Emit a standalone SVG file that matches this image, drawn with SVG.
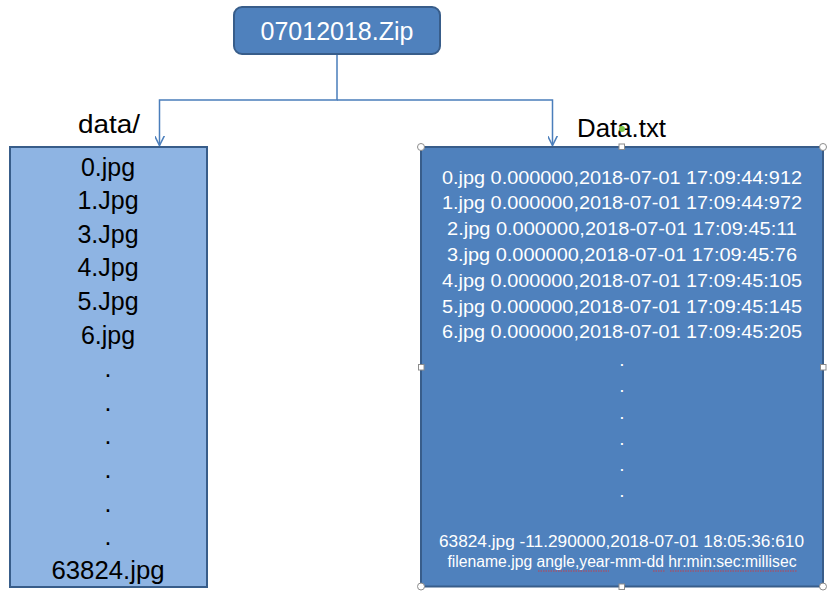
<svg xmlns="http://www.w3.org/2000/svg" width="828" height="602" viewBox="0 0 828 602">
<defs>
<style>
.box{fill:#4F81BD;stroke:#385D8A;stroke-width:2}
.lbox{fill:#8EB4E3;stroke:#385D8A;stroke-width:2}
.wt{fill:#FFFFFF;font-family:"Liberation Sans",Arial,sans-serif;text-anchor:middle}
.bt{fill:#000000;font-family:"Liberation Sans",Arial,sans-serif;text-anchor:middle}
.conn{fill:none;stroke:#4A7EBB;stroke-width:1.5}
.hc{fill:#FFFFFF;stroke:#8C8C8C;stroke-width:1}
.sq{fill:#FFFFFF;stroke:#8C8C8C;stroke-width:1}
.wave{fill:none;stroke:#E03030;stroke-width:0.8;stroke-dasharray:1.5 1}
</style>
<marker id="arr" viewBox="0 0 10 10" refX="10" refY="5" markerWidth="10" markerHeight="10" markerUnits="userSpaceOnUse" orient="auto">
<path d="M0,0 L10,5 L0,10" fill="none" stroke="#4A7EBB" stroke-width="1.5"/>
</marker>
</defs>
<rect width="828" height="602" fill="#FFFFFF"/>

<g id="connectors">
<path class="conn" d="M337,54 V100 H159.5 V145.5" marker-end="url(#arr)"/>
<path class="conn" d="M337,100 H552.5 V145.5" marker-end="url(#arr)"/>
</g>

<g id="zip">
<rect class="box" x="234" y="7" width="206" height="47" rx="8" ry="8"/>
<text class="wt" x="337" y="39.5" font-size="25">07012018.Zip</text>
</g>

<g id="data-folder">
<text class="bt" x="109" y="133" font-size="25" textLength="62" lengthAdjust="spacingAndGlyphs">data/</text>
<rect class="lbox" x="10" y="147" width="197" height="440"/>
<g font-size="25">
<text class="bt" x="108" y="175.5">0.jpg</text>
<text class="bt" x="108" y="209.1">1.Jpg</text>
<text class="bt" x="108" y="242.7">3.Jpg</text>
<text class="bt" x="108" y="276.3">4.Jpg</text>
<text class="bt" x="108" y="309.9">5.Jpg</text>
<text class="bt" x="108" y="343.5">6.jpg</text>
<text class="bt" x="108" y="377.1">.</text>
<text class="bt" x="108" y="410.7">.</text>
<text class="bt" x="108" y="444.3">.</text>
<text class="bt" x="108" y="477.9">.</text>
<text class="bt" x="108" y="511.5">.</text>
<text class="bt" x="108" y="545.1">.</text>
<text class="bt" x="108" y="578.7" textLength="113" lengthAdjust="spacingAndGlyphs">63824.jpg</text>
</g>
</g>

<g id="data-txt">
<text class="bt" x="621.5" y="137" font-size="25" textLength="89" lengthAdjust="spacingAndGlyphs">Data.txt</text>
<rect class="box" x="421" y="147" width="402" height="439.5"/>
<g font-size="19">
<text class="wt" x="622" y="183.5" textLength="360" lengthAdjust="spacingAndGlyphs">0.jpg 0.000000,2018-07-01 17:09:44:912</text>
<text class="wt" x="622" y="209.3" textLength="360" lengthAdjust="spacingAndGlyphs">1.jpg 0.000000,2018-07-01 17:09:44:972</text>
<text class="wt" x="622" y="235.1" textLength="350" lengthAdjust="spacingAndGlyphs">2.jpg 0.000000,2018-07-01 17:09:45:11</text>
<text class="wt" x="622" y="260.9" textLength="350" lengthAdjust="spacingAndGlyphs">3.jpg 0.000000,2018-07-01 17:09:45:76</text>
<text class="wt" x="622" y="286.7" textLength="360" lengthAdjust="spacingAndGlyphs">4.jpg 0.000000,2018-07-01 17:09:45:105</text>
<text class="wt" x="622" y="312.5" textLength="360" lengthAdjust="spacingAndGlyphs">5.jpg 0.000000,2018-07-01 17:09:45:145</text>
<text class="wt" x="622" y="338.3" textLength="360" lengthAdjust="spacingAndGlyphs">6.jpg 0.000000,2018-07-01 17:09:45:205</text>
<text class="wt" x="622" y="366">.</text>
<text class="wt" x="622" y="392">.</text>
<text class="wt" x="622" y="418.5">.</text>
<text class="wt" x="622" y="444.5">.</text>
<text class="wt" x="622" y="470.5">.</text>
<text class="wt" x="622" y="496.5">.</text>
<text class="wt" x="621.5" y="547" font-size="17.2" textLength="365" lengthAdjust="spacingAndGlyphs">63824.jpg -11.290000,2018-07-01 18:05:36:610</text>
<text class="wt" x="622" y="567" font-size="15.8" textLength="349" lengthAdjust="spacingAndGlyphs">filename.jpg angle,year-mm-dd hr:min:sec:millisec</text>
</g>
<path class="wave" d="M538,571 H609 M653,571 H665 M670,571 H797"/>
<circle class="hc" cx="421" cy="147" r="3.5"/>
<circle class="hc" cx="823" cy="147" r="3.5"/>
<circle class="hc" cx="421" cy="586.5" r="3.5"/>
<circle class="hc" cx="823" cy="586.5" r="3.5"/>
<rect class="sq" x="619" y="144" width="5.5" height="5.5"/>
<rect class="sq" x="619" y="584" width="5.5" height="5.5"/>
<rect class="sq" x="418.5" y="364.5" width="5.5" height="5.5"/>
<rect class="sq" x="820.5" y="364.5" width="5.5" height="5.5"/>
<circle cx="622" cy="129" r="3" fill="#7CC64A"/>
</g>
</svg>
